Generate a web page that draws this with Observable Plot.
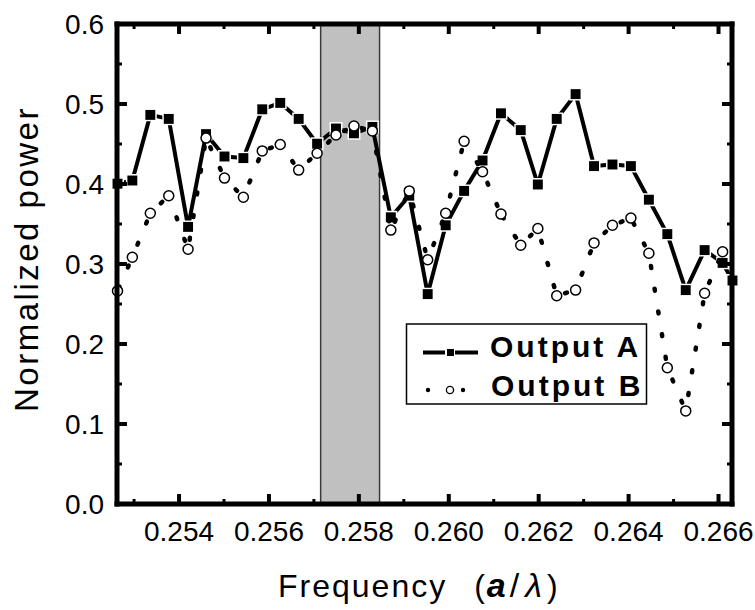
<!DOCTYPE html>
<html><head><meta charset="utf-8">
<script src="https://cdn.jsdelivr.net/npm/d3@7"></script>
<script src="https://cdn.jsdelivr.net/npm/@observablehq/plot@0.6"></script>
<style>body{margin:0;background:#fff;} #chart svg{display:block}</style>
</head><body><div id="chart"></div>
<script>
// ---- data ----
const freq = [0.25262, 0.25295, 0.25335, 0.25376, 0.25419, 0.25459, 0.25500, 0.25542, 0.25584, 0.25624,
              0.25665, 0.25706, 0.25748, 0.25788, 0.25829, 0.25870, 0.25911, 0.25952, 0.25992, 0.26033,
              0.26074, 0.26115, 0.26159, 0.26197, 0.26239, 0.26281, 0.26322, 0.26363, 0.26404, 0.26444,
              0.26485, 0.26526, 0.26568, 0.26608, 0.26630];
const outputA = [0.401, 0.405, 0.487, 0.482, 0.347, 0.463, 0.435, 0.433, 0.494, 0.502,
                 0.482, 0.451, 0.470, 0.464, 0.472, 0.359, 0.386, 0.263, 0.349, 0.392,
                 0.430, 0.489, 0.468, 0.400, 0.482, 0.513, 0.423, 0.425, 0.423, 0.381,
                 0.338, 0.268, 0.318, 0.302, 0.280];
const outputB = [0.267, 0.309, 0.364, 0.386, 0.319, 0.458, 0.408, 0.384, 0.442, 0.450,
                 0.418, 0.439, 0.462, 0.473, 0.467, 0.343, 0.392, 0.306, 0.364, 0.454,
                 0.416, 0.363, 0.324, 0.345, 0.261, 0.268, 0.327, 0.349, 0.358, 0.314,
                 0.171, 0.117, 0.264, 0.316, null];
const seriesNames = ["Output A", "Output B"];
const bandRange = [0.25715, 0.25846];
const xDomain = [0.25262, 0.2663];
const yDomain = [0, 0.6];
const xMajor = [0.254, 0.256, 0.258, 0.260, 0.262, 0.264, 0.266];
const xMinor = [0.253, 0.255, 0.257, 0.259, 0.261, 0.263, 0.265];
const yMajor = [0, 0.1, 0.2, 0.3, 0.4, 0.5, 0.6];
const yMinor = [0.05, 0.15, 0.25, 0.35, 0.45, 0.55];
const xTitle = "Frequency";
const yTitle = "Normalized power";

// ---- derived tables ----
const rowsA = freq.map((f, i) => ({f, v: outputA[i]})).filter(d => d.v != null);
const rowsB = freq.map((f, i) => ({f, v: outputB[i]})).filter(d => d.v != null);
const segB = rowsB.slice(1).map((d, i) => ({x1: d.f, y1: d.v, x2: rowsB[i].f, y2: rowsB[i].v}));
const bands = [{x1: bandRange[0], x2: bandRange[1]}];

const FONT = "'Liberation Sans', Arial, Helvetica, sans-serif";
const W = 755, H = 610, ML = 117, MR = 23, MT = 24, MB = 106;

const plot = Plot.plot({
  width: W, height: H,
  marginLeft: ML, marginRight: MR, marginTop: MT, marginBottom: MB,
  x: {domain: xDomain, axis: null, label: null},
  y: {domain: yDomain, axis: null, label: null},
  marks: [
    Plot.rect(bands, {x1: "x1", x2: "x2", y1: yDomain[0], y2: yDomain[1], fill: "#c0c0c0", stroke: "#3a3a3a", strokeWidth: 1.5}),
    Plot.line(rowsA, {x: "f", y: "v", stroke: "black", strokeWidth: 4}),
    Plot.dot(rowsA, {x: "f", y: "v", symbol: "square", r: 5.6, fill: "black", stroke: "white", strokeWidth: 3, paintOrder: "stroke"}),
    Plot.link(segB, {x1: "x1", y1: "y1", x2: "x2", y2: "y2", stroke: "black", strokeWidth: 4.5, strokeLinecap: "round", strokeDasharray: "2 21", strokeDashoffset: 14}),
    Plot.dot(rowsB, {x: "f", y: "v", r: 5, fill: "white", stroke: "black", strokeWidth: 1.5})
  ]
});

document.getElementById("chart").appendChild(plot);
const svg = d3.select(plot);
const sx = plot.scale("x"), sy = plot.scale("y");
const X = v => sx.apply(v), Y = v => sy.apply(v);
const x0 = X(xDomain[0]), x1 = X(xDomain[1]), y0 = Y(yDomain[0]), y1 = Y(yDomain[1]);

// tick labels
const lab = svg.append("g").attr("font-family", FONT).attr("font-size", 28).attr("fill", "black");
for (const v of xMajor) {
  lab.append("text").attr("x", X(v)).attr("y", y0 + 36.5).attr("text-anchor", "middle").text(v.toFixed(3));
}
for (const v of yMajor) {
  lab.append("text").attr("x", x0 - 13).attr("y", Y(v)).attr("dy", "0.35em").attr("text-anchor", "end").text(v.toFixed(1));
}

// axis titles
const xt = svg.append("text").attr("x", 278).attr("y", 597).attr("text-anchor", "start")
  .attr("font-family", FONT).attr("font-size", 32).attr("letter-spacing", 2).attr("fill", "black");
xt.append("tspan").text(xTitle);
xt.append("tspan").attr("dx", 27).text("(");
xt.append("tspan").attr("font-style", "italic").attr("font-weight", "bold").attr("font-size", 34).text("a");
xt.append("tspan").attr("dx", 2).attr("font-size", 34).text("/");
xt.append("tspan").attr("dx", 4).attr("font-style", "italic").attr("font-size", 34).text("λ");
xt.append("tspan").attr("dx", 3).text(")");

svg.append("text").attr("transform", "translate(38,259) rotate(-90)")
  .attr("text-anchor", "middle").attr("font-family", FONT).attr("font-size", 33)
  .attr("letter-spacing", 2.5).attr("fill", "black").text(yTitle);

// legend
const lg = svg.append("g");
lg.append("rect").attr("x", 406.5).attr("y", 324).attr("width", 240).attr("height", 80)
  .attr("fill", "white").attr("stroke", "black").attr("stroke-width", 1.5);
lg.append("line").attr("x1", 423).attr("x2", 445).attr("y1", 352.5).attr("y2", 352.5).attr("stroke", "black").attr("stroke-width", 4);
lg.append("line").attr("x1", 455).attr("x2", 478).attr("y1", 352.5).attr("y2", 352.5).attr("stroke", "black").attr("stroke-width", 4);
lg.append("rect").attr("x", 447).attr("y", 349).attr("width", 7).attr("height", 7).attr("fill", "black");
lg.append("text").attr("x", 490).attr("y", 357).attr("text-anchor", "start").attr("font-family", FONT).attr("font-weight", "bold")
  .attr("font-size", 30).attr("letter-spacing", 3).attr("fill", "black").text(seriesNames[0]);
lg.append("circle").attr("cx", 428).attr("cy", 390).attr("r", 2.2).attr("fill", "black");
lg.append("circle").attr("cx", 450).attr("cy", 390).attr("r", 3.6).attr("fill", "white").attr("stroke", "black").attr("stroke-width", 1.3);
lg.append("circle").attr("cx", 463).attr("cy", 390).attr("r", 2.2).attr("fill", "black");
lg.append("text").attr("x", 491).attr("y", 396).attr("text-anchor", "start").attr("font-family", FONT).attr("font-weight", "bold")
  .attr("font-size", 30).attr("letter-spacing", 3).attr("fill", "black").text(seriesNames[1]);

// frame + inward ticks (filled shapes, drawn last), positioned by Plot's scales
const axes = svg.append("g");
const bar = (x, y, w, h) => axes.append("rect").attr("x", x).attr("y", y).attr("width", w).attr("height", h).attr("fill", "black");
const T = 5;
bar(x0 - T / 2, y1 - T / 2, x1 - x0 + T, T);
bar(x0 - T / 2, y0 - T / 2, x1 - x0 + T, T);
bar(x0 - T / 2, y1 - T / 2, T, y0 - y1 + T);
bar(x1 - T / 2, y1 - T / 2, T, y0 - y1 + T);
const ticks = (vals, len, w, horiz) => {
  for (const v of vals) {
    if (horiz) {
      const x = X(v);
      bar(x - w / 2, y0 - len, w, len);
      bar(x - w / 2, y1, w, len);
    } else {
      const y = Y(v);
      bar(x0, y - w / 2, len, w);
      bar(x1 - len, y - w / 2, len, w);
    }
  }
};
ticks(xMajor, 10, 4, true);
ticks(xMinor, 5, 3, true);
ticks(yMajor, 10, 4, false);
ticks(yMinor, 5, 3, false);
</script>
</body></html>
